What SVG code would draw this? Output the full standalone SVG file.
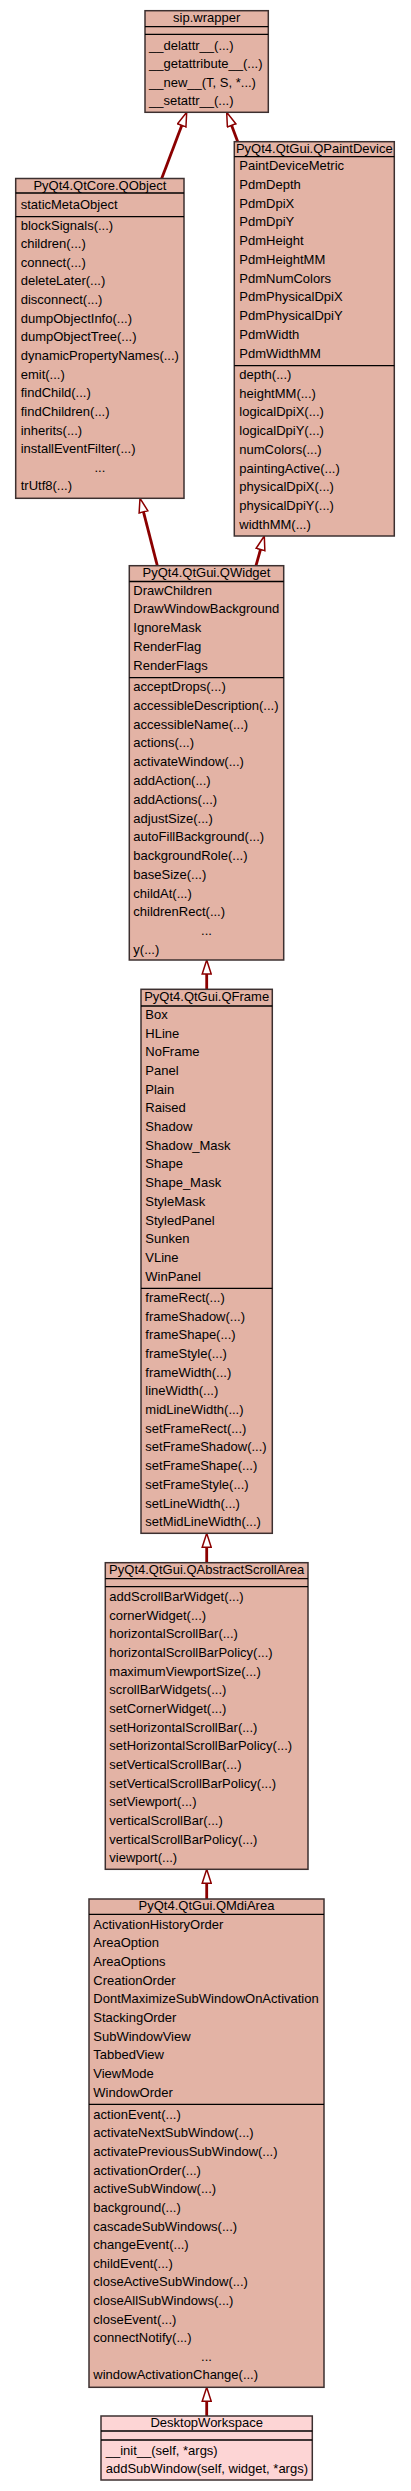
<svg xmlns="http://www.w3.org/2000/svg" width="411" height="2491" viewBox="0 0 411 2491">
<style>
.box{fill:#e3b3a5;stroke:#3c3030;stroke-width:1.5}
.box2{fill:#fdd5d5;stroke:#3c3030;stroke-width:1.5}
.sep{stroke:#000;stroke-width:1.3}
text{font-family:"Liberation Sans",Arial,sans-serif;font-size:13px;fill:#000}
.c{text-anchor:middle}
.edge{stroke:#8b0000;stroke-width:2.8;fill:none;marker-end:url(#inh)}
</style>
<defs>
<marker id="inh" viewBox="-1 -1 16 11" refX="0" refY="4.5" markerWidth="16" markerHeight="11" markerUnits="userSpaceOnUse" orient="auto">
<path d="M0,0 L14,4.5 L0,9 Z" fill="#fff" stroke="#8b0000" stroke-width="1.5"/>
</marker>
</defs>
<rect width="411" height="2491" fill="#fff"/>
<g id="connectors">
<path class="edge" d="M161.7,178.5 L181.74,125.39"/>
<path class="edge" d="M237.7,141.7 L231.6,125.4"/>
<path class="edge" d="M157.3,565.7 L143.48,511.86"/>
<path class="edge" d="M256,565.7 L260.53,549.48"/>
<path class="edge" d="M206.7,989.3 L206.7,974"/>
<path class="edge" d="M206.7,1562.7 L206.7,1547.3"/>
<path class="edge" d="M206.7,1899 L206.7,1883.3"/>
<path class="edge" d="M206.7,2416 L206.7,2401.3"/>
</g>
<g id="sip_wrapper">
<rect class="box" x="145" y="10.7" width="123.3" height="101.6"/>
<line class="sep" x1="145" y1="26.7" x2="268.3" y2="26.7"/>
<line class="sep" x1="145" y1="34.3" x2="268.3" y2="34.3"/>
<text class="c" x="206.65" y="21.8">sip.wrapper</text>
<text x="149" y="49.5">__delattr__(...)</text>
<text x="149" y="68.1">__getattribute__(...)</text>
<text x="149" y="86.7">__new__(T, S, *...)</text>
<text x="149" y="105.3">__setattr__(...)</text>
</g>
<g id="QPaintDevice">
<rect class="box" x="234.3" y="141.7" width="160" height="394.3"/>
<line class="sep" x1="234.3" y1="156.7" x2="394.3" y2="156.7"/>
<line class="sep" x1="234.3" y1="365.7" x2="394.3" y2="365.7"/>
<text class="c" x="314.3" y="152.8">PyQt4.QtGui.QPaintDevice</text>
<text x="239.3" y="170.2">PaintDeviceMetric</text>
<text x="239.3" y="188.95">PdmDepth</text>
<text x="239.3" y="207.7">PdmDpiX</text>
<text x="239.3" y="226.45">PdmDpiY</text>
<text x="239.3" y="245.2">PdmHeight</text>
<text x="239.3" y="263.95">PdmHeightMM</text>
<text x="239.3" y="282.7">PdmNumColors</text>
<text x="239.3" y="301.45">PdmPhysicalDpiX</text>
<text x="239.3" y="320.2">PdmPhysicalDpiY</text>
<text x="239.3" y="338.95">PdmWidth</text>
<text x="239.3" y="357.7">PdmWidthMM</text>
<text x="239.3" y="378.8">depth(...)</text>
<text x="239.3" y="397.55">heightMM(...)</text>
<text x="239.3" y="416.3">logicalDpiX(...)</text>
<text x="239.3" y="435.05">logicalDpiY(...)</text>
<text x="239.3" y="453.8">numColors(...)</text>
<text x="239.3" y="472.55">paintingActive(...)</text>
<text x="239.3" y="491.3">physicalDpiX(...)</text>
<text x="239.3" y="510.05">physicalDpiY(...)</text>
<text x="239.3" y="528.8">widthMM(...)</text>
</g>
<g id="QObject">
<rect class="box" x="15.7" y="178.5" width="168.3" height="319.8"/>
<line class="sep" x1="15.7" y1="193" x2="184" y2="193"/>
<line class="sep" x1="15.7" y1="216.7" x2="184" y2="216.7"/>
<text class="c" x="99.85" y="189.5">PyQt4.QtCore.QObject</text>
<text x="20.7" y="208.8">staticMetaObject</text>
<text x="20.7" y="229.5">blockSignals(...)</text>
<text x="20.7" y="248.14">children(...)</text>
<text x="20.7" y="266.78">connect(...)</text>
<text x="20.7" y="285.42">deleteLater(...)</text>
<text x="20.7" y="304.06">disconnect(...)</text>
<text x="20.7" y="322.7">dumpObjectInfo(...)</text>
<text x="20.7" y="341.34">dumpObjectTree(...)</text>
<text x="20.7" y="359.98">dynamicPropertyNames(...)</text>
<text x="20.7" y="378.62">emit(...)</text>
<text x="20.7" y="397.26">findChild(...)</text>
<text x="20.7" y="415.9">findChildren(...)</text>
<text x="20.7" y="434.54">inherits(...)</text>
<text x="20.7" y="453.18">installEventFilter(...)</text>
<text class="c" x="99.85" y="471.82">...</text>
<text x="20.7" y="490.46">trUtf8(...)</text>
</g>
<g id="QWidget">
<rect class="box" x="129.3" y="565.7" width="154.4" height="394.3"/>
<line class="sep" x1="129.3" y1="581.5" x2="283.7" y2="581.5"/>
<line class="sep" x1="129.3" y1="677.7" x2="283.7" y2="677.7"/>
<text class="c" x="206.5" y="576.8">PyQt4.QtGui.QWidget</text>
<text x="133.3" y="594.5">DrawChildren</text>
<text x="133.3" y="613.25">DrawWindowBackground</text>
<text x="133.3" y="632">IgnoreMask</text>
<text x="133.3" y="650.75">RenderFlag</text>
<text x="133.3" y="669.5">RenderFlags</text>
<text x="133.3" y="691.2">acceptDrops(...)</text>
<text x="133.3" y="709.96">accessibleDescription(...)</text>
<text x="133.3" y="728.72">accessibleName(...)</text>
<text x="133.3" y="747.48">actions(...)</text>
<text x="133.3" y="766.24">activateWindow(...)</text>
<text x="133.3" y="785">addAction(...)</text>
<text x="133.3" y="803.76">addActions(...)</text>
<text x="133.3" y="822.52">adjustSize(...)</text>
<text x="133.3" y="841.28">autoFillBackground(...)</text>
<text x="133.3" y="860.04">backgroundRole(...)</text>
<text x="133.3" y="878.8">baseSize(...)</text>
<text x="133.3" y="897.56">childAt(...)</text>
<text x="133.3" y="916.32">childrenRect(...)</text>
<text class="c" x="206.5" y="935.08">...</text>
<text x="133.3" y="953.84">y(...)</text>
</g>
<g id="QFrame">
<rect class="box" x="141" y="989.3" width="131.3" height="544"/>
<line class="sep" x1="141" y1="1006" x2="272.3" y2="1006"/>
<line class="sep" x1="141" y1="1288.3" x2="272.3" y2="1288.3"/>
<text class="c" x="206.65" y="1001.2">PyQt4.QtGui.QFrame</text>
<text x="145.3" y="1018.8">Box</text>
<text x="145.3" y="1037.51">HLine</text>
<text x="145.3" y="1056.22">NoFrame</text>
<text x="145.3" y="1074.93">Panel</text>
<text x="145.3" y="1093.64">Plain</text>
<text x="145.3" y="1112.35">Raised</text>
<text x="145.3" y="1131.06">Shadow</text>
<text x="145.3" y="1149.77">Shadow_Mask</text>
<text x="145.3" y="1168.48">Shape</text>
<text x="145.3" y="1187.19">Shape_Mask</text>
<text x="145.3" y="1205.9">StyleMask</text>
<text x="145.3" y="1224.61">StyledPanel</text>
<text x="145.3" y="1243.32">Sunken</text>
<text x="145.3" y="1262.03">VLine</text>
<text x="145.3" y="1280.74">WinPanel</text>
<text x="145.3" y="1301.8">frameRect(...)</text>
<text x="145.3" y="1320.5">frameShadow(...)</text>
<text x="145.3" y="1339.2">frameShape(...)</text>
<text x="145.3" y="1357.9">frameStyle(...)</text>
<text x="145.3" y="1376.6">frameWidth(...)</text>
<text x="145.3" y="1395.3">lineWidth(...)</text>
<text x="145.3" y="1414">midLineWidth(...)</text>
<text x="145.3" y="1432.7">setFrameRect(...)</text>
<text x="145.3" y="1451.4">setFrameShadow(...)</text>
<text x="145.3" y="1470.1">setFrameShape(...)</text>
<text x="145.3" y="1488.8">setFrameStyle(...)</text>
<text x="145.3" y="1507.5">setLineWidth(...)</text>
<text x="145.3" y="1526.2">setMidLineWidth(...)</text>
</g>
<g id="QAbstractScrollArea">
<rect class="box" x="105.3" y="1562.7" width="202.7" height="306.6"/>
<line class="sep" x1="105.3" y1="1578.7" x2="308" y2="1578.7"/>
<line class="sep" x1="105.3" y1="1586.7" x2="308" y2="1586.7"/>
<text class="c" x="206.65" y="1573.8">PyQt4.QtGui.QAbstractScrollArea</text>
<text x="109.3" y="1601.2">addScrollBarWidget(...)</text>
<text x="109.3" y="1619.84">cornerWidget(...)</text>
<text x="109.3" y="1638.48">horizontalScrollBar(...)</text>
<text x="109.3" y="1657.12">horizontalScrollBarPolicy(...)</text>
<text x="109.3" y="1675.76">maximumViewportSize(...)</text>
<text x="109.3" y="1694.4">scrollBarWidgets(...)</text>
<text x="109.3" y="1713.04">setCornerWidget(...)</text>
<text x="109.3" y="1731.68">setHorizontalScrollBar(...)</text>
<text x="109.3" y="1750.32">setHorizontalScrollBarPolicy(...)</text>
<text x="109.3" y="1768.96">setVerticalScrollBar(...)</text>
<text x="109.3" y="1787.6">setVerticalScrollBarPolicy(...)</text>
<text x="109.3" y="1806.24">setViewport(...)</text>
<text x="109.3" y="1824.88">verticalScrollBar(...)</text>
<text x="109.3" y="1843.52">verticalScrollBarPolicy(...)</text>
<text x="109.3" y="1862.16">viewport(...)</text>
</g>
<g id="QMdiArea">
<rect class="box" x="89" y="1899" width="235" height="488.3"/>
<line class="sep" x1="89" y1="1914.3" x2="324" y2="1914.3"/>
<line class="sep" x1="89" y1="2104.3" x2="324" y2="2104.3"/>
<text class="c" x="206.5" y="1910.2">PyQt4.QtGui.QMdiArea</text>
<text x="93.3" y="1928.8">ActivationHistoryOrder</text>
<text x="93.3" y="1947.47">AreaOption</text>
<text x="93.3" y="1966.14">AreaOptions</text>
<text x="93.3" y="1984.81">CreationOrder</text>
<text x="93.3" y="2003.48">DontMaximizeSubWindowOnActivation</text>
<text x="93.3" y="2022.15">StackingOrder</text>
<text x="93.3" y="2040.82">SubWindowView</text>
<text x="93.3" y="2059.49">TabbedView</text>
<text x="93.3" y="2078.16">ViewMode</text>
<text x="93.3" y="2096.83">WindowOrder</text>
<text x="93.3" y="2118.8">actionEvent(...)</text>
<text x="93.3" y="2137.42">activateNextSubWindow(...)</text>
<text x="93.3" y="2156.04">activatePreviousSubWindow(...)</text>
<text x="93.3" y="2174.66">activationOrder(...)</text>
<text x="93.3" y="2193.28">activeSubWindow(...)</text>
<text x="93.3" y="2211.9">background(...)</text>
<text x="93.3" y="2230.52">cascadeSubWindows(...)</text>
<text x="93.3" y="2249.14">changeEvent(...)</text>
<text x="93.3" y="2267.76">childEvent(...)</text>
<text x="93.3" y="2286.38">closeActiveSubWindow(...)</text>
<text x="93.3" y="2305">closeAllSubWindows(...)</text>
<text x="93.3" y="2323.62">closeEvent(...)</text>
<text x="93.3" y="2342.24">connectNotify(...)</text>
<text class="c" x="206.5" y="2360.86">...</text>
<text x="93.3" y="2379.48">windowActivationChange(...)</text>
</g>
<g id="DesktopWorkspace">
<rect class="box2" x="101" y="2416" width="211.3" height="64"/>
<line class="sep" x1="101" y1="2431" x2="312.3" y2="2431"/>
<line class="sep" x1="101" y1="2440" x2="312.3" y2="2440"/>
<text class="c" x="206.65" y="2427.2">DesktopWorkspace</text>
<text x="105.7" y="2454.5">__init__(self, *args)</text>
<text x="105.7" y="2472.8">addSubWindow(self, widget, *args)</text>
</g>
</svg>
